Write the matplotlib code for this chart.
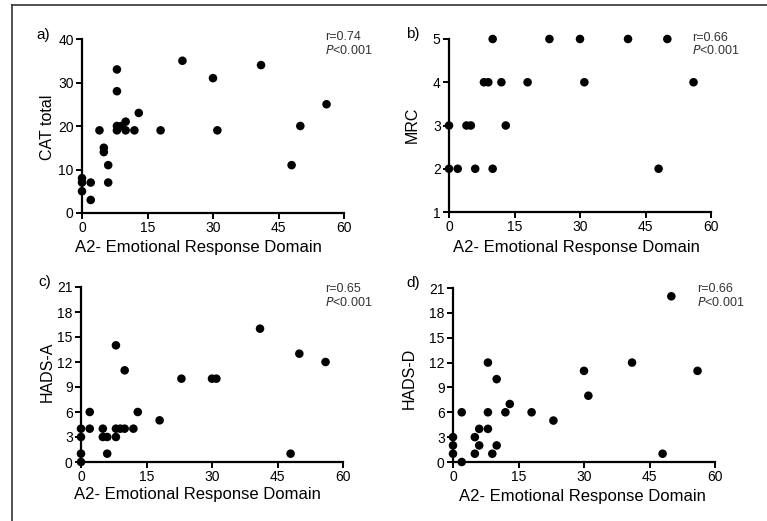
import matplotlib
matplotlib.use("Agg")
import matplotlib.pyplot as plt
from matplotlib.lines import Line2D

plt.rcParams['font.family'] = ['Liberation Sans', 'DejaVu Sans']

# данные
a_x = [0, 0, 0, 2, 2, 4, 5, 5, 6, 6, 8, 8, 8, 8, 9, 10, 10, 12, 13, 18, 23, 30, 31, 41, 48, 50, 56]
a_y = [5, 7, 8, 7, 3, 19, 15, 14, 11, 7, 33, 28, 20, 19, 20, 21, 19, 19, 23, 19, 35, 31, 19, 34, 11, 20, 25]

b_x = [10, 23, 30, 41, 50, 8, 9, 12, 18, 31, 56, 0, 4, 5, 13, 0, 2, 6, 10, 48]
b_y = [5, 5, 5, 5, 5, 4, 4, 4, 4, 4, 4, 3, 3, 3, 3, 2, 2, 2, 2, 2]

c_x = [0, 0, 0, 0, 2, 2, 5, 5, 6, 6, 8, 8, 8, 9, 10, 10, 12, 13, 18, 23, 30, 31, 41, 48, 50, 56]
c_y = [0, 1, 3, 4, 6, 4, 4, 3, 3, 1, 14, 4, 3, 4, 4, 11, 4, 6, 5, 10, 10, 10, 16, 1, 13, 12]

d_x = [0, 0, 0, 2, 2, 5, 5, 6, 6, 8, 8, 8, 9, 10, 10, 12, 13, 18, 23, 30, 31, 41, 48, 50, 56]
d_y = [3, 2, 1, 0, 6, 3, 1, 4, 2, 12, 6, 4, 1, 10, 2, 6, 7, 6, 5, 11, 8, 12, 1, 20, 11]

x_ticks = [0, 15, 30, 45, 60]
x_label = 'A2- Emotional Response Domain'

panels = [
    # буква, данные, подпись оси, тики y, r
    ('a)', a_x, a_y, 'CAT total', [0, 10, 20, 30, 40], 'r=0.74'),
    ('b)', b_x, b_y, 'MRC', [1, 2, 3, 4, 5], 'r=0.66'),
    ('c)', c_x, c_y, 'HADS-A', [0, 3, 6, 9, 12, 15, 18, 21], 'r=0.65'),
    ('d)', d_x, d_y, 'HADS-D', [0, 3, 6, 9, 12, 15, 18, 21], 'r=0.66'),
]

W, H = 767, 521

# положение осей в пикселях: x0, x1, y_top, y_bottom
boxes = [(82, 344, 39, 213), (449, 711, 39, 212), (81, 343, 287, 462), (453, 715, 288, 462)]
# центры подписей
letter_pos = [(43, 35), (413, 34), (45, 282), (413, 283)]
xlab_pos = [(198, 247), (576, 247), (197, 495), (582, 496)]
ylab_pos = [(47, 127), (412, 125), (47, 372), (409, 378)]
r_pos = [(325, 37), (692, 38), (325, 289), (697, 289)]


def fx(px):
    return px / W


def fy(py):
    return 1 - py / H


fig = plt.figure(figsize=(W / 100, H / 100), dpi=100)
fig.patch.set_facecolor('white')

# рамка слева и сверху
fig.add_artist(Line2D([fx(12), 1], [fy(5), fy(5)], color='#333333', lw=1.2))
fig.add_artist(Line2D([fx(12), fx(12)], [fy(5), 0], color='#333333', lw=1.2))

for i, (letter, xs, ys, ylab, yt, rtxt) in enumerate(panels):
    x0, x1, yt0, yb0 = boxes[i]
    ax = fig.add_axes([fx(x0), fy(yb0), (x1 - x0) / W, (yb0 - yt0) / H])
    ax.scatter(xs, ys, s=38, c='black', edgecolors='none', clip_on=False, zorder=3)
    ax.set_xlim(0, 60)
    ax.set_ylim(yt[0], yt[-1])
    ax.set_xticks(x_ticks)
    ax.set_yticks(yt)
    for s in ['top', 'right']:
        ax.spines[s].set_visible(False)
    for s in ['left', 'bottom']:
        ax.spines[s].set_linewidth(1.6)
    ax.tick_params(direction='out', length=4, width=1.4, labelsize=10, pad=2)
    ax.patch.set_alpha(0)

    fig.text(fx(letter_pos[i][0]), fy(letter_pos[i][1]), letter, fontsize=11,
             ha='center', va='center')
    fig.text(fx(xlab_pos[i][0]), fy(xlab_pos[i][1]), x_label, fontsize=12,
             ha='center', va='center')
    fig.text(fx(ylab_pos[i][0]), fy(ylab_pos[i][1]), ylab, fontsize=11.5,
             ha='center', va='center', rotation=90)
    rx, ry = r_pos[i]
    fig.text(fx(rx), fy(ry), rtxt, fontsize=9, color='#333333', ha='left', va='center')
    fig.text(fx(rx), fy(ry + 13), r'$\it{P}$<0.001', fontsize=9, color='#333333',
             ha='left', va='center')

plt.savefig('out.png', dpi=100, facecolor='white')
